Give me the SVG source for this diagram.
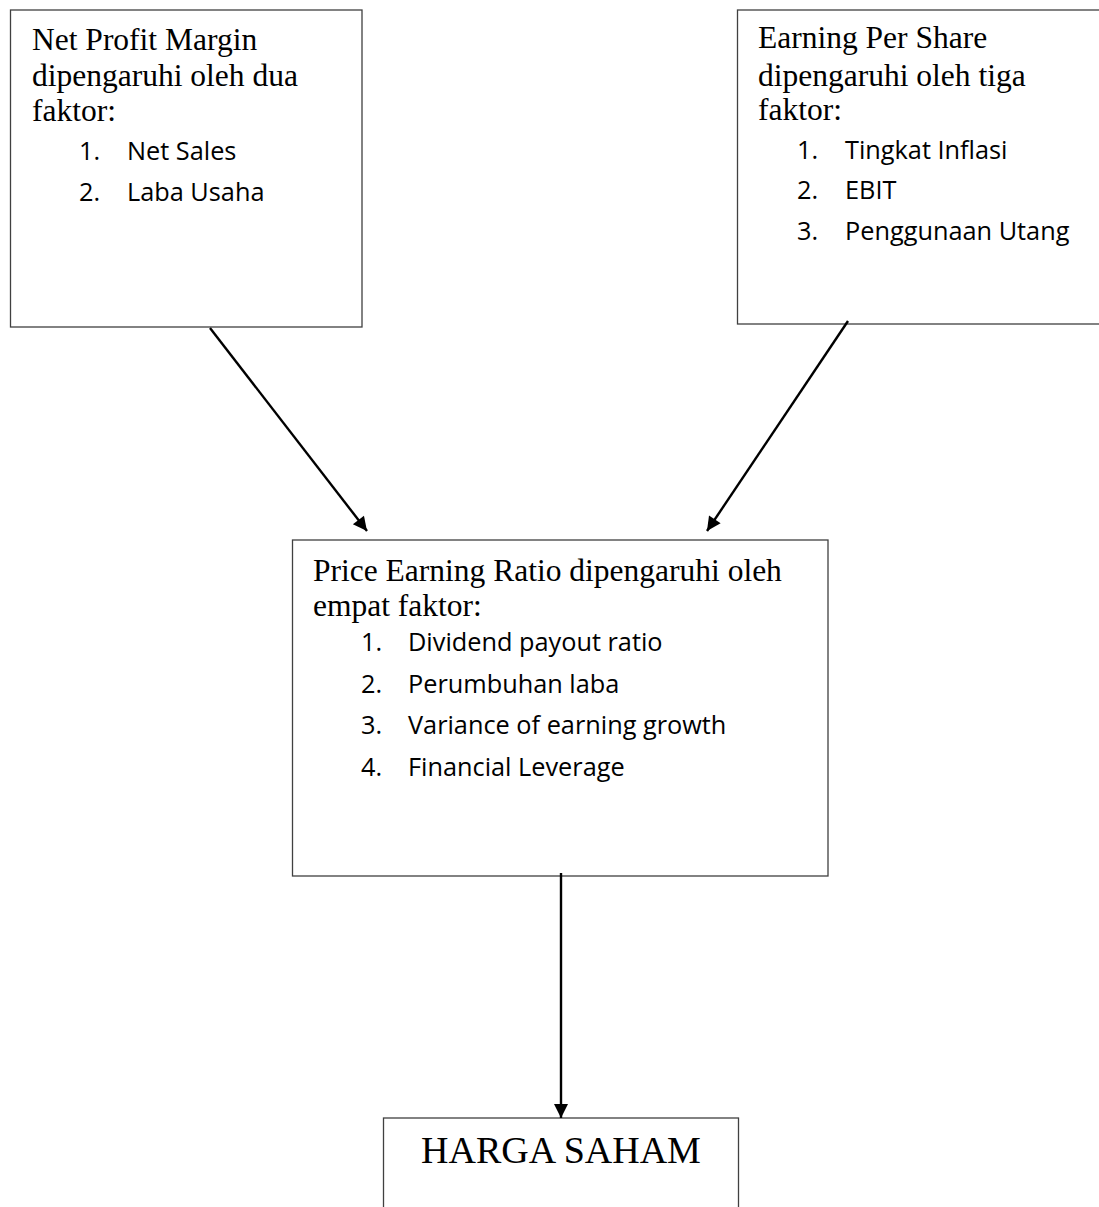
<svg xmlns="http://www.w3.org/2000/svg" width="1099" height="1207" viewBox="0 0 1099 1207">
<style>
.box{fill:#fff;stroke:#404040;stroke-width:1.3}
.h{font-family:"Liberation Serif","Times New Roman",serif;font-size:31.5px;fill:#000}
.li{font-family:"Open Sans","Liberation Sans",sans-serif;font-size:25.3px;fill:#000}
.con{stroke:#000;stroke-width:2.4;fill:none;marker-end:url(#arr)}
</style>
<defs>
<marker id="arr" viewBox="0 0 10 10" refX="10" refY="5" markerWidth="17" markerHeight="14" markerUnits="userSpaceOnUse" orient="auto" style="overflow:visible">
<path d="M0,0 L10,5 L0,10 z" fill="#000"/>
</marker>
</defs>
<rect width="1099" height="1207" fill="#fff"/>
<g id="npm">
<rect class="box" x="10.5" y="10" width="351.5" height="317"/>
<text class="h" x="32" y="50">Net Profit Margin</text>
<text class="h" x="32" y="86">dipengaruhi oleh dua</text>
<text class="h" x="32" y="121">faktor:</text>
<text class="li" x="79" y="160">1.</text><text class="li" x="127" y="160">Net Sales</text>
<text class="li" x="79" y="201">2.</text><text class="li" x="127" y="201">Laba Usaha</text>
</g>
<g id="eps">
<rect class="box" x="737.5" y="10" width="370" height="314"/>
<text class="h" x="758" y="48">Earning Per Share</text>
<text class="h" x="758" y="86">dipengaruhi oleh tiga</text>
<text class="h" x="758" y="120">faktor:</text>
<text class="li" x="797" y="159">1.</text><text class="li" x="845" y="159">Tingkat Inflasi</text>
<text class="li" x="797" y="199">2.</text><text class="li" x="845" y="199">EBIT</text>
<text class="li" x="797" y="240">3.</text><text class="li" x="845" y="240">Penggunaan Utang</text>
</g>
<g id="per">
<rect class="box" x="292.5" y="540" width="535.5" height="336"/>
<text class="h" x="313" y="581" font-size="32">Price Earning Ratio dipengaruhi oleh</text>
<text class="h" x="313" y="616" font-size="32">empat faktor:</text>
<text class="li" x="361" y="651">1.</text><text class="li" x="408" y="651">Dividend payout ratio</text>
<text class="li" x="361" y="693">2.</text><text class="li" x="408" y="693">Perumbuhan laba</text>
<text class="li" x="361" y="734">3.</text><text class="li" x="408" y="734">Variance of earning growth</text>
<text class="li" x="361" y="776">4.</text><text class="li" x="408" y="776">Financial Leverage</text>
</g>
<g id="harga">
<rect class="box" x="383.5" y="1118" width="355" height="100"/>
<text x="561" y="1163" text-anchor="middle" font-family="Liberation Serif,Times New Roman,serif" font-size="38" fill="#000">HARGA SAHAM</text>
</g>
<g id="connectors">
<path class="con" d="M210,328 L367,531"/>
<path class="con" d="M848,321 L707,531"/>
<path class="con" d="M561,873 L561,1118"/>
</g>
</svg>
